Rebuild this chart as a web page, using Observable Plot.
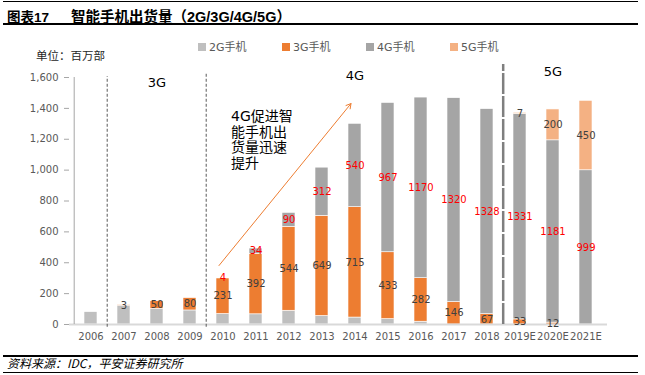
<!DOCTYPE html>
<html><head><meta charset="utf-8">
<script src="https://cdn.jsdelivr.net/npm/d3@7"></script>
<script src="https://cdn.jsdelivr.net/npm/@observablehq/plot@0.6"></script>
<style>
body{margin:0;background:#fff;font-family:"DejaVu Sans","Noto Sans CJK SC",sans-serif;}
#wrap{position:relative;width:645px;height:375px;overflow:hidden;background:#fff;}
#chart{position:absolute;left:0;top:0;}
.abs{position:absolute;white-space:nowrap;line-height:1;}
.hl{position:absolute;left:3px;width:635px;height:1px;background:#000;}
.lg{position:absolute;top:42px;font-size:11px;color:#595959;line-height:12px;font-family:"DejaVu Sans","Noto Sans CJK SC",sans-serif;}
.lg i{display:inline-block;width:8px;height:8px;margin-right:3px;vertical-align:-0px;}
</style></head>
<body>
<div id="wrap">
  <div id="chart"></div>
  <div class="hl" style="top:1px"></div>
  <div class="hl" style="top:23px;height:1.5px"></div>
  <div class="abs" style="left:7px;top:6px;font:bold 13.5px 'Liberation Sans','Noto Sans CJK SC',sans-serif;color:#000">图表17</div>
  <div class="abs" style="left:71px;top:5px;font:bold 14.5px 'Liberation Sans','Noto Sans CJK SC',sans-serif;color:#000">智能手机出货量（2G/3G/4G/5G）</div>
  <div class="abs" style="left:36px;top:50px;font-size:11.5px;color:#262626;font-family:'Noto Sans CJK SC',sans-serif">单位：百万部</div>
  <div id="legend"></div>
  <div class="hl" style="top:355px;height:1.5px"></div>
  <div class="hl" style="top:372px"></div>
  <div class="abs" style="left:7px;top:357px;font-size:12px;font-style:italic;color:#000;font-family:'Noto Sans CJK SC',sans-serif">资料来源：IDC，平安证券研究所</div>
</div>
<script>
const years = ["2006","2007","2008","2009","2010","2011","2012","2013","2014","2015","2016","2017","2018","2019E","2020E","2021E"];
const g2 = [80,122,101,91,68,66,89,55,45,35,18,0,0,0,0,0];
const g3 = [0,3,50,80,231,392,544,649,715,433,282,146,67,33,12,0];
const g4 = [0,0,0,0,4,34,90,312,540,967,1170,1320,1328,1331,1181,999];
const g5 = [0,0,0,0,0,0,0,0,0,0,0,0,0,7,200,450];
const seriesNames = ["2G手机","3G手机","4G手机","5G手机"];
const seriesColors = ["#bfbfbf","#ed7d31","#a5a5a5","#f4b183"];
const yTicks = [0,200,400,600,800,1000,1200,1400,1600];
const eraNames = ["3G","4G","5G"];
const eraYears = ["2008","2014","2020E"];
const noteText = "4G促进智\n能手机出\n货量迅速\n提升";

const W = 645, H = 375, ML = 69, MR = 38, MT = 77, MB = 51;
const step = (W - ML - MR) / years.length;

const series = [g2, g3, g4, g5];
const rows = [];
years.forEach((yr, i) => {
  let acc = 0;
  series.forEach((s, k) => {
    const v = s[i];
    rows.push({year: yr, series: seriesNames[k], k, value: v, y1: acc, y2: acc + v, mid: acc + v / 2});
    acc += v;
  });
});
const shown = rows.filter(d => d.value > 0);
const darkLabels = shown.filter(d => d.k === 1 || d.k === 3);
const redLabels = shown.filter(d => d.k === 2);

const chart = Plot.plot({
  width: W, height: H,
  marginLeft: ML, marginRight: MR, marginTop: MT, marginBottom: MB,
  style: {fontFamily: "'DejaVu Sans','Noto Sans CJK SC',sans-serif", fontSize: "10px", background: "transparent"},
  x: {domain: years, paddingInner: 0.6, paddingOuter: 0.3},
  y: {domain: [0, 1600]},
  color: {domain: seriesNames, range: seriesColors},
  marks: [
    Plot.barY(shown, {x: "year", y1: "y1", y2: "y2", fill: "series", stroke: "#ffffff", strokeWidth: 0.6}),
    Plot.ruleY([0], {stroke: "#d9d9d9", strokeWidth: 2}),
    Plot.ruleX([years[0]], {y1: 0, y2: 1600, dx: -step / 2, stroke: "#a6a6a6", strokeWidth: 1}),
    Plot.axisY(yTicks, {tickSize: 5, tickPadding: 6, tickFormat: d3.format(","), fontSize: 10, color: "#595959", label: null}),
    Plot.axisX({tickSize: 0, tickPadding: 8, fontSize: 10, color: "#595959", label: null}),
    Plot.ruleX([years[1]], {y1: -18, y2: 1606, dx: -step / 2, stroke: "#595959", strokeWidth: 1, strokeDasharray: "3,2"}),
    Plot.ruleX([years[4]], {y1: -18, y2: 1632, dx: -step / 2, stroke: "#595959", strokeWidth: 1, strokeDasharray: "3,2"}),
    Plot.ruleX([years[13]], {y1: 0, y2: 1684, dx: -step / 2, stroke: "#7f7f7f", strokeWidth: 2.5, strokeDasharray: "21,2"}),
    Plot.text(darkLabels, {x: "year", y: "mid", text: d => String(d.value), fill: "#404040", fontSize: 10}),
    Plot.text(redLabels, {x: "year", y: "mid", text: d => String(d.value), fill: "#ff0000", fontSize: 10}),
    Plot.text([{t: eraNames[0], yr: eraYears[0]}], {x: "yr", y: 1567, text: "t", fontSize: 13, fill: "#000"}),
    Plot.text([{t: eraNames[1], yr: eraYears[1]}], {x: "yr", y: 1613, text: "t", fontSize: 13, fill: "#000"}),
    Plot.text([{t: eraNames[2], yr: eraYears[2]}], {x: "yr", y: 1639, text: "t", fontSize: 13, fill: "#000"}),
    Plot.text([{t: noteText, yr: years[4]}], {x: "yr", y: 1198, text: "t", textAnchor: "start", lineAnchor: "middle", lineHeight: 1.1, dx: 8, fontSize: 14, fill: "#000"}),
    Plot.arrow([{from: years[4], to: years[8]}], {x1: "from", x2: "to", y1: 382, y2: 1431, dx: -4, stroke: "#ed7d31", strokeWidth: 1, headLength: 8})
  ]
});
document.getElementById("chart").appendChild(chart);
d3.select(chart).selectAll('g[aria-label="y-axis tick"] path').attr("stroke", "#a6a6a6");

const lg = document.getElementById("legend");
const lgX = [198, 282, 366, 450];
seriesNames.forEach((n, k) => {
  const d = document.createElement("div");
  d.className = "lg";
  d.style.left = lgX[k] + "px";
  d.innerHTML = `<i style="background:${seriesColors[k]}"></i>${n}`;
  lg.appendChild(d);
});
</script>
</body></html>
